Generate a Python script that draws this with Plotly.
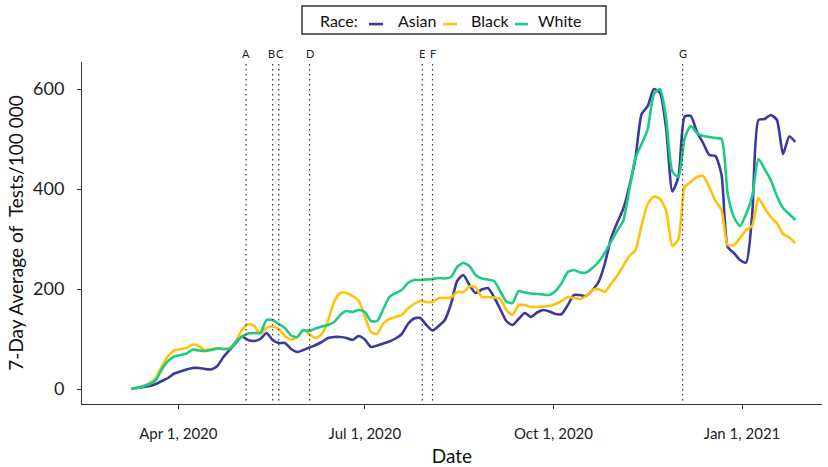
import pandas as pd
import plotly.graph_objects as go

# Daily series sampled every 3 days, starting 2020-03-09
start_date = "2020-03-09"
step_days = 3

asian = [0, 2, 4, 6, 10, 16, 22, 31, 35, 39, 42, 42, 40, 39, 46, 64, 78, 92, 105, 98,
         96, 100, 112, 98, 92, 92, 80, 74, 78, 83, 88, 94, 102, 104, 104, 102, 98, 106, 99, 84,
         87, 91, 95, 101, 110, 130, 141, 142, 128, 117, 126, 138, 170, 216, 228, 208, 192, 199, 202, 184,
         160, 136, 128, 140, 152, 144, 153, 158, 155, 150, 150, 168, 188, 188, 186, 198, 214, 250, 300, 332,
         360, 405, 462, 550, 566, 600, 592, 520, 395, 425, 545, 546, 514, 492, 468, 466, 428, 284, 272, 258,
         253, 352, 538, 540, 548, 538, 470, 505, 494]

black = [0, 3, 6, 12, 22, 46, 66, 77, 80, 82, 89, 86, 78, 80, 82, 80, 82, 95, 118, 130,
         126, 110, 122, 125, 120, 106, 99, 104, 118, 109, 102, 110, 136, 174, 192, 192, 186, 176, 145, 114,
         110, 131, 140, 144, 148, 161, 170, 176, 174, 174, 182, 182, 183, 194, 194, 205, 204, 184, 184, 183,
         180, 158, 148, 168, 168, 164, 164, 165, 166, 170, 176, 184, 182, 180, 186, 198, 200, 194, 210, 226,
         246, 266, 278, 328, 370, 385, 380, 356, 286, 300, 404, 414, 424, 426, 404, 376, 358, 288, 288, 302,
         318, 327, 382, 362, 344, 332, 310, 303, 292]

white = [0, 3, 6, 10, 18, 40, 56, 65, 68, 71, 79, 77, 76, 78, 81, 80, 80, 94, 105, 111,
         112, 112, 138, 138, 130, 122, 107, 104, 118, 116, 121, 125, 128, 134, 148, 156, 154, 158, 154, 136,
         136, 160, 184, 192, 198, 212, 218, 218, 219, 220, 222, 221, 224, 244, 252, 246, 228, 221, 219, 216,
         196, 175, 172, 196, 193, 191, 190, 189, 188, 196, 212, 234, 238, 233, 233, 242, 254, 272, 294, 316,
         336, 398, 462, 490, 520, 590, 600, 540, 435, 424, 502, 526, 512, 506, 504, 502, 500, 390, 344, 326,
         350, 386, 460, 440, 418, 386, 362, 350, 338]

# Policy event markers (with a small horizontal nudge so close labels stay legible)
event_labels = ["A", "B", "C", "D", "E", "F", "G"]
event_dates = ["2020-05-04", "2020-05-17", "2020-05-20", "2020-06-04",
               "2020-07-29", "2020-08-03", "2020-12-03"]
event_nudge = [0, -1.5, 1.5, 0, -0.5, 0.5, 0]

tick_dates = ["2020-04-01", "2020-07-01", "2020-10-01", "2021-01-01"]
tick_text = ["Apr 1, 2020", "Jul 1, 2020", "Oct 1, 2020", "Jan 1, 2021"]

dates = pd.date_range(start_date, periods=len(asian), freq=f"{step_days}D")

series = [("Asian", asian, "#3b3a9c"),
          ("Black", black, "#ffc20a"),
          ("White", white, "#1ecb82")]

FONT = "Lato"

fig = go.Figure()
for name, vals, color in series:
    fig.add_trace(go.Scatter(
        x=dates, y=vals, name=name, mode="lines", showlegend=False,
        line=dict(color=color, width=2.6, shape="spline", smoothing=0.6),
    ))

for lab, d, nudge in zip(event_labels, event_dates, event_nudge):
    fig.add_shape(type="line", xref="x", yref="paper", x0=d, x1=d, y0=0.01, y1=1,
                  line=dict(color="#333333", width=1.2, dash="1.5px,3.5px"))
    fig.add_annotation(x=d, y=1.0, xref="x", yref="paper", text=lab, showarrow=False,
                       yanchor="bottom", xshift=nudge,
                       font=dict(family=FONT, size=11, color="#222222"))

# Boxed key above the plot: "Race:" followed by a short swatch and name per series
key_y = 1.1228
fig.add_shape(type="rect", xref="paper", yref="paper", x0=0.2973, x1=0.7081, y0=1.0819, y1=1.1637,
              line=dict(color="#333333", width=1.5), fillcolor="white", layer="above")
fig.add_annotation(x=0.3189, y=key_y, xref="paper", yref="paper", text="Race:", showarrow=False,
                   xanchor="left", yanchor="middle", font=dict(family=FONT, size=16, color="#111111"))
key_pos = [(0.3878, 0.4068, 0.4243), (0.4878, 0.5068, 0.5236), (0.5851, 0.6027, 0.6135)]
for (name, _, color), (lx0, lx1, tx) in zip(series, key_pos):
    fig.add_shape(type="line", xref="paper", yref="paper", x0=lx0, x1=lx1, y0=key_y - 0.012, y1=key_y - 0.012,
                  line=dict(color=color, width=2.6), layer="above")
    fig.add_annotation(x=tx, y=key_y, xref="paper", yref="paper", text=name, showarrow=False,
                       xanchor="left", yanchor="middle", font=dict(family=FONT, size=16, color="#111111"))

fig.update_layout(
    width=828, height=467,
    margin=dict(l=82, r=6, t=62, b=63),
    paper_bgcolor="white", plot_bgcolor="white",
    font=dict(family=FONT, color="#222222"),
    showlegend=False,
)

fig.update_xaxes(
    range=["2020-02-14", "2021-02-09"],
    tickvals=tick_dates, ticktext=tick_text,
    showgrid=False, zeroline=False,
    showline=True, linecolor="#333333", linewidth=1,
    ticks="outside", ticklen=4, tickcolor="#333333",
    ticklabelstandoff=12,
    tickfont=dict(family=FONT, size=15, color="#222222"),
    automargin=False,
    title=dict(text="Date", font=dict(family=FONT, size=19, color="#111111"), standoff=10),
)
fig.update_yaxes(
    range=[-30, 654],
    tickvals=[0, 200, 400, 600],
    showgrid=False, zeroline=False,
    showline=True, linecolor="#333333", linewidth=1,
    ticks="outside", ticklen=4, tickcolor="#333333",
    ticklabelstandoff=9,
    tickfont=dict(family=FONT, size=18, color="#222222"),
    automargin=False,
    title=dict(text="7-Day Average of\u00a0\u00a0Tests/100\u00a0000",
               font=dict(family=FONT, size=19, color="#111111"), standoff=4),
)

fig.write_html("out.html")
